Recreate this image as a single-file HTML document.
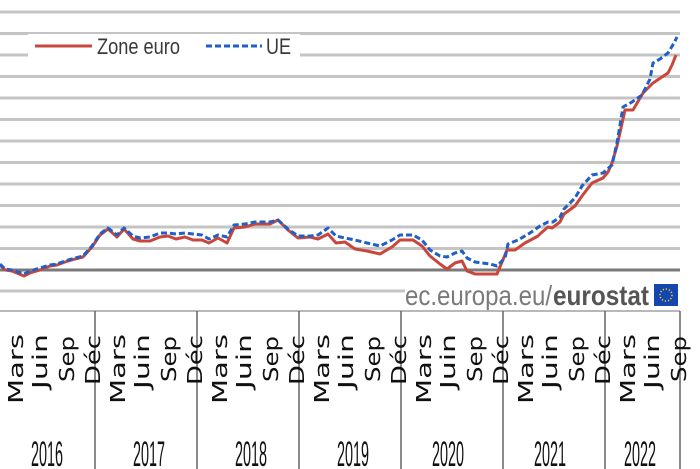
<!DOCTYPE html>
<html><head><meta charset="utf-8"><style>html,body{margin:0;padding:0;background:#fff;}svg{display:block}</style></head>
<body>
<svg width="700" height="469" viewBox="0 0 700 469" xmlns="http://www.w3.org/2000/svg">
<g stroke="#c4c4c4" stroke-width="3">
<line x1="0" y1="12" x2="680" y2="12"/>
<line x1="0" y1="33.5" x2="680" y2="33.5"/>
<line x1="0" y1="55" x2="680" y2="55"/>
<line x1="0" y1="76.5" x2="680" y2="76.5"/>
<line x1="0" y1="98" x2="680" y2="98"/>
<line x1="0" y1="119.5" x2="680" y2="119.5"/>
<line x1="0" y1="141" x2="680" y2="141"/>
<line x1="0" y1="162.5" x2="680" y2="162.5"/>
<line x1="0" y1="184" x2="680" y2="184"/>
<line x1="0" y1="205.5" x2="680" y2="205.5"/>
<line x1="0" y1="227" x2="680" y2="227"/>
<line x1="0" y1="248.5" x2="680" y2="248.5"/>
<line x1="0" y1="291" x2="405" y2="291"/>
</g>
<line x1="0" y1="270" x2="680" y2="270" stroke="#7a7a7a" stroke-width="3"/>
<rect x="28" y="34" width="272" height="24" fill="#fff"/>
<line x1="35" y1="46" x2="92" y2="46" stroke="#c9463d" stroke-width="3"/>
<text x="97" y="54" font-family="Liberation Sans, sans-serif" font-size="22" fill="#3a3a3a" textLength="83" lengthAdjust="spacingAndGlyphs">Zone euro</text>
<line x1="206" y1="46" x2="262" y2="46" stroke="#1f5fc6" stroke-width="3" stroke-dasharray="6,3"/>
<text x="266" y="54" font-family="Liberation Sans, sans-serif" font-size="22" fill="#3a3a3a" textLength="25" lengthAdjust="spacingAndGlyphs">UE</text>
<polyline fill="none" stroke="#c9463d" stroke-width="3" stroke-linejoin="round" points="0,265 5,270 12,271 24,276 30,273 40,270 50,266 57,265 65,262 75,259 83,257 92,247 100,235 108,229 117,237 124,229 133,239 140,241 150,241 160,237 168,236 176,239 185,237 193,240 202,240 209,243 218,238 227,243 234,228 245,227 255,224 270,224 278,220 288,230 298,238 310,237 318,239 328,234 336,243 345,242 355,249 367,251 380,254 392,247 400,240 413,240 422,246 430,256 440,264 447,269 455,263 462,261 467,271 475,274 497,274 507,250 515,250 525,243 538,236 541,233 548,227 552,228 560,222 564,214 575,206 582,196 592,183 603,178 608,172 612,163 617,146 625,110 633,110 643,93 653,83 668,73 672,65 676,55"/>
<polyline fill="none" stroke="#1f5fc6" stroke-width="3" stroke-dasharray="6,3" stroke-linejoin="round" points="0,264 5,269 12,270 24,274 30,271 40,268 50,265 57,264 65,261 75,258 83,256 92,246 100,234 108,228 117,235 124,228 133,236 140,238 150,237 160,233 168,233 176,234 185,233 193,234 202,235 209,239 218,235 227,237 234,225 245,224 255,222 270,222 278,220 288,229 298,236 310,236 318,235 328,228 336,236 345,238 355,240 367,243 380,246 392,240 400,235 413,235 422,240 430,250 440,256 447,257 455,253 462,251 467,258 475,262 490,264 497,266 505,258 508,244 518,240 530,233 540,226 548,222 553,222 560,217 564,209 575,198 582,186 592,175 603,173 612,165 617,143 623,107 632,102 642,95 650,79 653,63 660,59 668,53 674,43 677,37"/>
<text x="405" y="305" font-family="Liberation Sans, sans-serif" font-size="28" fill="#7a7a7a" textLength="147" lengthAdjust="spacingAndGlyphs">ec.europa.eu/</text>
<text x="553" y="305" font-family="Liberation Sans, sans-serif" font-size="28" font-weight="bold" fill="#555" textLength="96" lengthAdjust="spacingAndGlyphs">eurostat</text>
<rect x="654" y="284" width="24" height="22" fill="#1446ad"/>
<circle cx="666" cy="295" r="6" fill="none" stroke="#f2d31b" stroke-width="1.5" stroke-dasharray="1.2,1.9"/>
<line x1="0" y1="311" x2="680" y2="311" stroke="#b8b8b8" stroke-width="2"/>
<g stroke="#666" stroke-width="1.5">
<line x1="95" y1="311" x2="95" y2="469"/><line x1="197" y1="311" x2="197" y2="469"/><line x1="299" y1="311" x2="299" y2="469"/><line x1="401" y1="311" x2="401" y2="469"/><line x1="503" y1="311" x2="503" y2="469"/><line x1="605" y1="311" x2="605" y2="469"/><line x1="680" y1="311" x2="680" y2="469"/>
</g>
<g font-family="DejaVu Sans, sans-serif" font-size="20" fill="#111" text-anchor="end">
<g transform="translate(-102,0)">
<text transform="translate(23,334) rotate(-90)" textLength="70" lengthAdjust="spacingAndGlyphs">Mars</text>
<text transform="translate(47,334) rotate(-90)" textLength="55" lengthAdjust="spacingAndGlyphs">Juin</text>
<text transform="translate(74,336) rotate(-90)" textLength="46" lengthAdjust="spacingAndGlyphs">Sep</text>
<text transform="translate(100,335) rotate(-90)" textLength="50" lengthAdjust="spacingAndGlyphs">Déc</text>
</g>
<g>
<text transform="translate(23,334) rotate(-90)" textLength="70" lengthAdjust="spacingAndGlyphs">Mars</text>
<text transform="translate(47,334) rotate(-90)" textLength="55" lengthAdjust="spacingAndGlyphs">Juin</text>
<text transform="translate(74,336) rotate(-90)" textLength="46" lengthAdjust="spacingAndGlyphs">Sep</text>
<text transform="translate(100,335) rotate(-90)" textLength="50" lengthAdjust="spacingAndGlyphs">Déc</text>
</g>
<g transform="translate(102,0)">
<text transform="translate(23,334) rotate(-90)" textLength="70" lengthAdjust="spacingAndGlyphs">Mars</text>
<text transform="translate(47,334) rotate(-90)" textLength="55" lengthAdjust="spacingAndGlyphs">Juin</text>
<text transform="translate(74,336) rotate(-90)" textLength="46" lengthAdjust="spacingAndGlyphs">Sep</text>
<text transform="translate(100,335) rotate(-90)" textLength="50" lengthAdjust="spacingAndGlyphs">Déc</text>
</g>
<g transform="translate(204,0)">
<text transform="translate(23,334) rotate(-90)" textLength="70" lengthAdjust="spacingAndGlyphs">Mars</text>
<text transform="translate(47,334) rotate(-90)" textLength="55" lengthAdjust="spacingAndGlyphs">Juin</text>
<text transform="translate(74,336) rotate(-90)" textLength="46" lengthAdjust="spacingAndGlyphs">Sep</text>
<text transform="translate(100,335) rotate(-90)" textLength="50" lengthAdjust="spacingAndGlyphs">Déc</text>
</g>
<g transform="translate(306,0)">
<text transform="translate(23,334) rotate(-90)" textLength="70" lengthAdjust="spacingAndGlyphs">Mars</text>
<text transform="translate(47,334) rotate(-90)" textLength="55" lengthAdjust="spacingAndGlyphs">Juin</text>
<text transform="translate(74,336) rotate(-90)" textLength="46" lengthAdjust="spacingAndGlyphs">Sep</text>
<text transform="translate(100,335) rotate(-90)" textLength="50" lengthAdjust="spacingAndGlyphs">Déc</text>
</g>
<g transform="translate(408,0)">
<text transform="translate(23,334) rotate(-90)" textLength="70" lengthAdjust="spacingAndGlyphs">Mars</text>
<text transform="translate(47,334) rotate(-90)" textLength="55" lengthAdjust="spacingAndGlyphs">Juin</text>
<text transform="translate(74,336) rotate(-90)" textLength="46" lengthAdjust="spacingAndGlyphs">Sep</text>
<text transform="translate(100,335) rotate(-90)" textLength="50" lengthAdjust="spacingAndGlyphs">Déc</text>
</g>
<g transform="translate(510,0)">
<text transform="translate(23,334) rotate(-90)" textLength="70" lengthAdjust="spacingAndGlyphs">Mars</text>
<text transform="translate(47,334) rotate(-90)" textLength="55" lengthAdjust="spacingAndGlyphs">Juin</text>
<text transform="translate(74,336) rotate(-90)" textLength="46" lengthAdjust="spacingAndGlyphs">Sep</text>
<text transform="translate(100,335) rotate(-90)" textLength="50" lengthAdjust="spacingAndGlyphs">Déc</text>
</g>
<g transform="translate(612,0)">
<text transform="translate(23,334) rotate(-90)" textLength="70" lengthAdjust="spacingAndGlyphs">Mars</text>
<text transform="translate(47,334) rotate(-90)" textLength="55" lengthAdjust="spacingAndGlyphs">Juin</text>
<text transform="translate(74,336) rotate(-90)" textLength="46" lengthAdjust="spacingAndGlyphs">Sep</text>
</g>
</g>
<g font-family="Liberation Sans, sans-serif" font-size="35" fill="#111">
<text x="31" y="466" textLength="32" lengthAdjust="spacingAndGlyphs">2016</text>
<text x="133" y="466" textLength="32" lengthAdjust="spacingAndGlyphs">2017</text>
<text x="235" y="466" textLength="32" lengthAdjust="spacingAndGlyphs">2018</text>
<text x="337" y="466" textLength="32" lengthAdjust="spacingAndGlyphs">2019</text>
<text x="432" y="466" textLength="32" lengthAdjust="spacingAndGlyphs">2020</text>
<text x="534" y="466" textLength="32" lengthAdjust="spacingAndGlyphs">2021</text>
<text x="624" y="466" textLength="32" lengthAdjust="spacingAndGlyphs">2022</text>
</g>
</svg>
</body></html>
